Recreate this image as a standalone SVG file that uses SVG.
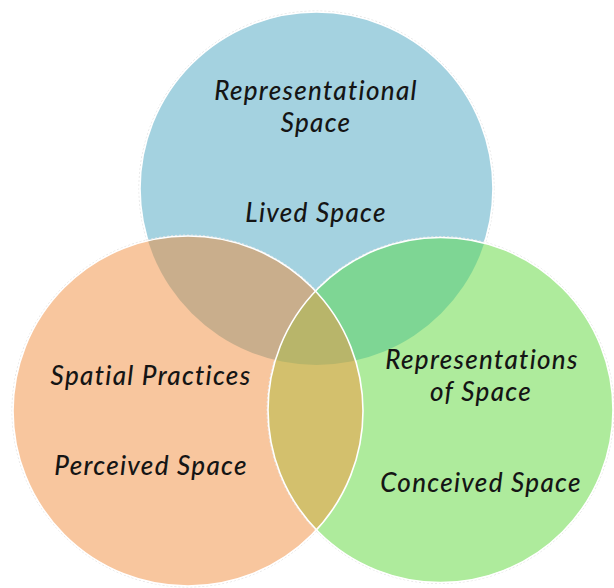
<svg xmlns="http://www.w3.org/2000/svg" width="614" height="588" viewBox="0 0 614 588">
  <defs>
    <clipPath id="cBlue"><circle cx="316.5" cy="188.5" r="176.5"/></clipPath>
    <clipPath id="cOrange"><circle cx="188" cy="411" r="175"/></clipPath>
    <clipPath id="cGreen"><circle cx="440.5" cy="410" r="172.5"/></clipPath>
    <style>
      .lbl { font-family: Lato, "Open Sans", "Liberation Sans", sans-serif; font-style: italic; font-size: 26px; font-weight: 500; letter-spacing: 1.3px; fill: #151515; text-anchor: middle; }
      .edge { fill: none; stroke: #ffffff; stroke-width: 1.6; }
      .halo { fill: none; stroke: #e4e4e4; stroke-width: 1; stroke-dasharray: 2 2; }
    </style>
  </defs>
  <rect width="614" height="588" fill="#ffffff"/>
  <g id="lived-space">
    <circle cx="316.5" cy="188.5" r="177.5" class="halo"/>
    <circle cx="316.5" cy="188.5" r="176.5" class="edge" style="fill:#a4d2e0"/>
  </g>
  <g id="perceived-space">
    <circle cx="188" cy="411" r="176" class="halo"/>
    <circle cx="188" cy="411" r="175" style="fill:#f8c69e"/>
  </g>
  <g id="conceived-space">
    <circle cx="440.5" cy="410" r="173.5" class="halo"/>
    <circle cx="440.5" cy="410" r="172.5" style="fill:#aeeb9c"/>
  </g>
  <g id="overlaps">
    <g clip-path="url(#cBlue)"><circle cx="188" cy="411" r="175" fill="#c9ae8c"/></g>
    <g clip-path="url(#cBlue)"><circle cx="440.5" cy="410" r="172.5" fill="#7ed694"/></g>
    <g clip-path="url(#cOrange)"><circle cx="440.5" cy="410" r="172.5" fill="#d3c06d"/></g>
    <g clip-path="url(#cBlue)"><g clip-path="url(#cOrange)"><circle cx="440.5" cy="410" r="172.5" fill="#b8b56a"/></g></g>
  </g>
  <g id="edges">
    <circle cx="188" cy="411" r="175" class="edge"/>
    <circle cx="440.5" cy="410" r="172.5" class="edge"/>
  </g>
  <g id="labels">
    <text class="lbl" x="316" y="100">Representational</text>
    <text class="lbl" x="316" y="132">Space</text>
    <text class="lbl" x="316" y="222">Lived Space</text>
    <text class="lbl" x="151" y="385">Spatial Practices</text>
    <text class="lbl" x="151" y="475">Perceived Space</text>
    <text class="lbl" x="482" y="369">Representations</text>
    <text class="lbl" x="481" y="401">of Space</text>
    <text class="lbl" x="481" y="492">Conceived Space</text>
  </g>
</svg>
